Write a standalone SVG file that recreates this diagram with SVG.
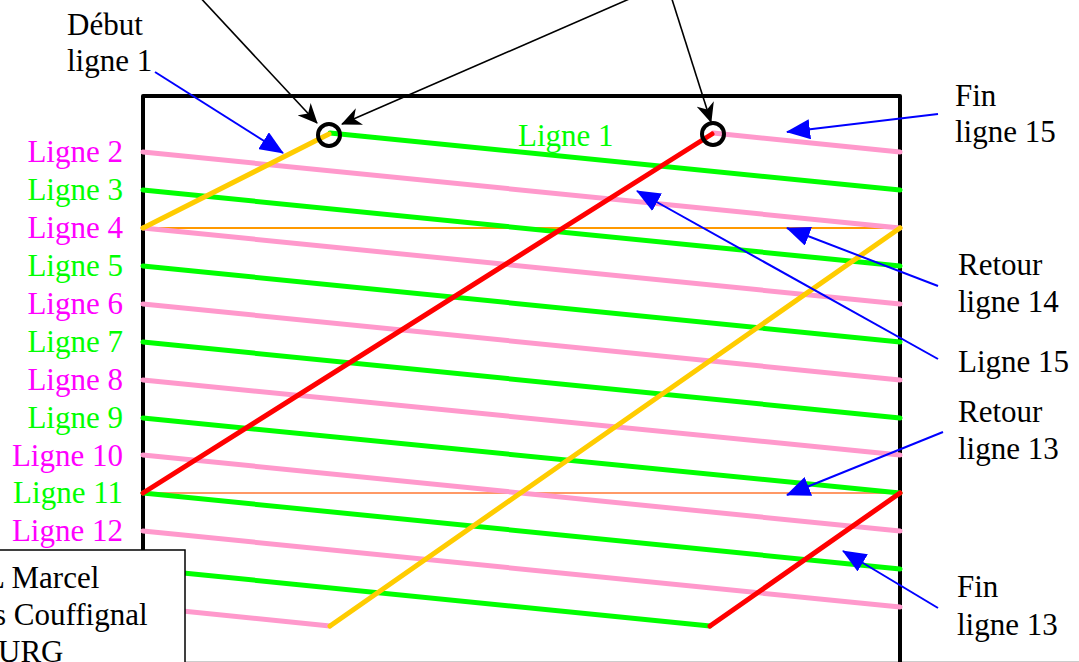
<svg xmlns="http://www.w3.org/2000/svg" width="1079" height="662" viewBox="0 0 1079 662">
<defs>
<marker id="bh" markerUnits="userSpaceOnUse" markerWidth="24" markerHeight="20" viewBox="0 0 24 20" refX="23" refY="10" orient="auto">
<path d="M0,0 L24,10 L0,20 Z" fill="#0000FF"/>
</marker>
<marker id="kh" markerUnits="userSpaceOnUse" markerWidth="20" markerHeight="18" viewBox="0 0 20 18" refX="19" refY="9" orient="auto">
<path d="M0,0 L20,9 L0,18 L6,9 Z" fill="#000"/>
</marker>
</defs>
<rect x="0" y="0" width="1079" height="662" fill="#fff"/>
<line x1="0" y1="661.5" x2="1079" y2="661.5" stroke="#cccccc" stroke-width="1"/>

<g id="frame">
<path d="M143,670 V96 H900 V670" stroke="#000" stroke-width="4" fill="none" stroke-linejoin="round"/>
</g>

<g id="threads" stroke-linecap="round" fill="none">
<line x1="143" y1="228" x2="900" y2="228" stroke="#FF9900" stroke-width="2"/>
<line x1="143" y1="493" x2="900" y2="493" stroke="#FF7733" stroke-width="1.6"/>
<g stroke="#00FF00" stroke-width="5">
<line x1="330" y1="133" x2="900" y2="190"/>
<line x1="143" y1="190" x2="900" y2="266"/>
<line x1="143" y1="266" x2="900" y2="342"/>
<line x1="143" y1="342" x2="900" y2="418"/>
<line x1="143" y1="418" x2="900" y2="493"/>
<line x1="143" y1="493" x2="900" y2="569"/>
<line x1="143" y1="569" x2="710" y2="626"/>
</g>
<g stroke="#FF99CC" stroke-width="5">
<line x1="143" y1="152" x2="900" y2="228"/>
<line x1="143" y1="228" x2="900" y2="304"/>
<line x1="143" y1="304" x2="900" y2="380"/>
<line x1="143" y1="380" x2="900" y2="455"/>
<line x1="143" y1="455" x2="900" y2="531"/>
<line x1="143" y1="531" x2="900" y2="607"/>
<line x1="143" y1="607" x2="330" y2="626"/>
<line x1="713" y1="133" x2="900" y2="152"/>
</g>
<g stroke="#FFCC00" stroke-width="5">
<line x1="143" y1="228" x2="329" y2="134"/>
<line x1="900" y1="228" x2="330" y2="626"/>
</g>
<g stroke="#FF0000" stroke-width="5">
<line x1="143" y1="493" x2="712" y2="134"/>
<line x1="900" y1="493" x2="710" y2="626"/>
</g>
</g>

<g id="circles" stroke="#000" stroke-width="4" fill="none">
<circle cx="329" cy="135" r="11"/>
<circle cx="713" cy="134" r="11"/>
</g>

<g id="connectors" fill="none">
<g stroke="#000" stroke-width="1.6" marker-end="url(#kh)">
<line x1="196" y1="-7" x2="317" y2="123"/>
<line x1="643" y1="-7" x2="342" y2="124"/>
<line x1="670" y1="-7" x2="711" y2="122"/>
</g>
<g stroke="#0000FF" stroke-width="2" marker-end="url(#bh)">
<line x1="155" y1="72" x2="283" y2="153"/>
<line x1="938" y1="114" x2="787" y2="132"/>
<line x1="938" y1="286" x2="787" y2="228"/>
<line x1="938" y1="359" x2="637" y2="191"/>
<line x1="943" y1="432" x2="787" y2="495"/>
<line x1="938" y1="608" x2="843" y2="551"/>
</g>
</g>

<g id="left-labels" text-anchor="end">
<text x="123" y="162" font-family="Liberation Serif" font-size="31" fill="#FF00FF">Ligne 2</text>
<text x="123" y="200" font-family="Liberation Serif" font-size="31" fill="#00FF00">Ligne 3</text>
<text x="123" y="238" font-family="Liberation Serif" font-size="31" fill="#FF00FF">Ligne 4</text>
<text x="123" y="276" font-family="Liberation Serif" font-size="31" fill="#00FF00">Ligne 5</text>
<text x="123" y="314" font-family="Liberation Serif" font-size="31" fill="#FF00FF">Ligne 6</text>
<text x="123" y="352" font-family="Liberation Serif" font-size="31" fill="#00FF00">Ligne 7</text>
<text x="123" y="390" font-family="Liberation Serif" font-size="31" fill="#FF00FF">Ligne 8</text>
<text x="123" y="428" font-family="Liberation Serif" font-size="31" fill="#00FF00">Ligne 9</text>
<text x="123" y="466" font-family="Liberation Serif" font-size="31" fill="#FF00FF">Ligne 10</text>
<text x="123" y="503" font-family="Liberation Serif" font-size="31" fill="#00FF00">Ligne 11</text>
<text x="123" y="541" font-family="Liberation Serif" font-size="31" fill="#FF00FF">Ligne 12</text>
</g>

<g id="label-ligne1">
<text x="518" y="146" font-family="Liberation Serif" font-size="31" fill="#00FF00">Ligne 1</text>
</g>

<g id="label-debut">
<text x="67" y="35" font-family="Liberation Serif" font-size="31" fill="#000">Début</text>
<text x="67" y="71" font-family="Liberation Serif" font-size="31" fill="#000">ligne 1</text>
</g>

<g id="label-fin15">
<text x="955" y="106" font-family="Liberation Serif" font-size="31" fill="#000">Fin</text>
<text x="955" y="142" font-family="Liberation Serif" font-size="31" fill="#000">ligne 15</text>
</g>
<g id="label-retour14">
<text x="958" y="275" font-family="Liberation Serif" font-size="31" fill="#000">Retour</text>
<text x="958" y="312" font-family="Liberation Serif" font-size="31" fill="#000">ligne 14</text>
</g>
<g id="label-ligne15">
<text x="958" y="372" font-family="Liberation Serif" font-size="31" fill="#000">Ligne 15</text>
</g>
<g id="label-retour13">
<text x="958" y="422" font-family="Liberation Serif" font-size="31" fill="#000">Retour</text>
<text x="958" y="459" font-family="Liberation Serif" font-size="31" fill="#000">ligne 13</text>
</g>
<g id="label-fin13">
<text x="957" y="597" font-family="Liberation Serif" font-size="31" fill="#000">Fin</text>
<text x="957" y="635" font-family="Liberation Serif" font-size="31" fill="#000">ligne 13</text>
</g>

<g id="author-box">
<rect x="-5" y="550" width="190" height="130" fill="#fff" stroke="#000" stroke-width="1.5"/>
<text x="-14" y="588" font-family="Liberation Serif" font-size="31" fill="#000">L Marcel</text>
<text x="-6" y="625" font-family="Liberation Serif" font-size="31" fill="#000">s Couffignal</text>
<text x="-2" y="662" font-family="Liberation Serif" font-size="31" fill="#000">URG</text>
</g>
</svg>
